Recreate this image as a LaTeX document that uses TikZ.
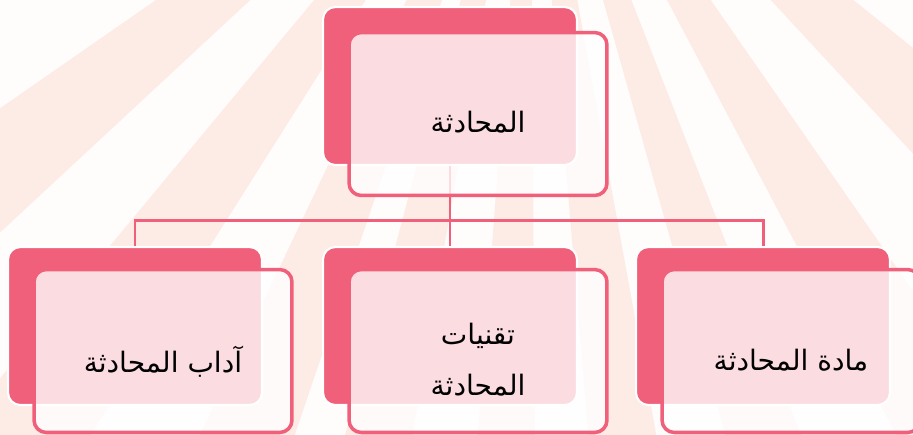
\documentclass[tikz,border=0pt]{standalone}
\usepackage{fontspec}
\usepackage{xcolor}
\newfontfamily\arabicfont[Script=Arabic]{DejaVu Sans}
\TeXXeTstate=1
\usetikzlibrary{positioning}
\definecolor{rosa}{RGB}{240,96,122}
\definecolor{peach}{RGB}{253,235,229}
\definecolor{paper}{RGB}{255,252,252}

\begin{document}
\begin{tikzpicture}[x=0.02cm, y=-0.02cm,
    back/.style={fill=rosa, draw=white, line width=1.2pt, rounded corners=7pt,
        minimum width=5.08cm, minimum height=3.16cm, inner sep=0pt},
    front/.style={fill=white, fill opacity=0.78, draw=rosa, draw opacity=1,
        line width=2pt, rounded corners=7pt, minimum width=5.16cm,
        minimum height=3.26cm, inner sep=0pt},
    lbl/.style={font=\arabicfont\fontsize{16}{29}\selectfont, align=center},
    link/.style={draw=rosa, line width=1.7pt}]
    \useasboundingbox (0,0) rectangle (913,434);
    \clip (0,0) rectangle (913,434);
    % rays
    \fill[paper] (0,0) rectangle (913,434);
    \coordinate (sun) at (530,-260);
    \foreach \p/\q in {-55.2/-47.1, -39.7/-32.3, -25.4/-18.7, -14.9/-9.6,
        -4.3/0.4, 4.8/10.3, 15.7/21.3, 27.8/34.8, 42.8/51.2}
        \fill[peach] (sun) -- +({90-(\p)}:1500) -- +({90-(\q)}:1500) -- cycle;
    \node[back] (topB) at (450,86) {};
    \node[back] (leftB) at (135,326) {};
    \node[back] (midB) at (450,326) {};
    \node[back] (rightB) at (763,326) {};
    \coordinate (fork) at (450,220);
    \draw[link] (topB.south) -- (fork) -| (leftB.north);
    \draw[link] (fork) -| (rightB.north);
    \draw[link] (fork) -- (midB.north);
    \node[front] (topF) at ([shift={(28,28)}]topB) {};
    \node[front] (leftF) at ([shift={(28,25)}]leftB) {};
    \node[front] (midF) at ([shift={(28,25)}]midB) {};
    \node[front] (rightF) at ([shift={(28,25)}]rightB) {};
    \node[lbl] (topT) at ([yshift=-0.16cm]topF) {\beginR المحادثة\endR};
    \node[lbl] (leftT) at ([yshift=-0.22cm]leftF) {\beginR آداب المحادثة\endR};
    \node[lbl] (midT) at ([yshift=-0.18cm]midF) {\beginR تقنيات\endR\\\beginR المحادثة\endR};
    \node[lbl] (rightT) at ([yshift=-0.18cm]rightF) {\beginR مادة المحادثة\endR};
\end{tikzpicture}
\end{document}
